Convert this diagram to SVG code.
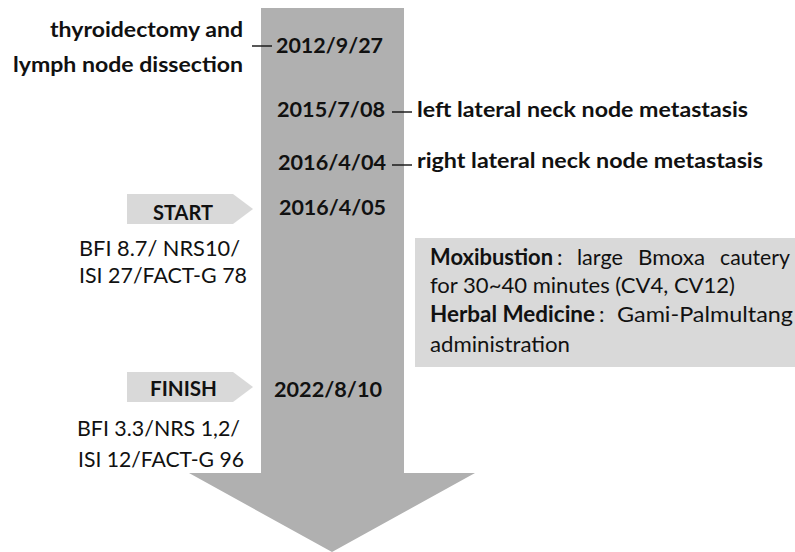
<svg xmlns="http://www.w3.org/2000/svg" width="795" height="552" viewBox="0 0 795 552">
<style>
text{font-family:Lato,"Open Sans","Liberation Sans",sans-serif;fill:#111}
.b{font-weight:bold;font-size:21px}
.r{font-size:21px}
.m{font-size:22px}
.mb{font-size:22px;font-weight:bold}
.lead{stroke:#111;stroke-width:1.4;fill:none}
.tag{fill:#d9d9d9}
</style>
<rect width="795" height="552" fill="#fff"/>
<g id="timeline-arrow">
<path d="M261,8 H404 V473 H475 L332,552 L189,473 H261 Z" fill="#b0b0b0"/>
</g>
<g id="connectors">
<line class="lead" x1="252" y1="46" x2="272" y2="46"/>
<line class="lead" x1="392" y1="112" x2="412" y2="112"/>
<line class="lead" x1="392" y1="165" x2="412" y2="165"/>
</g>
<g id="event-2012">
<text class="b" x="50" y="37" textLength="193" lengthAdjust="spacingAndGlyphs">thyroidectomy and</text>
<text class="b" x="13" y="72" textLength="230" lengthAdjust="spacingAndGlyphs">lymph node dissection</text>
<text class="b" x="276" y="53" textLength="107" lengthAdjust="spacingAndGlyphs">2012/9/27</text>
</g>
<g id="event-2015">
<text class="b" x="277" y="117" textLength="108" lengthAdjust="spacingAndGlyphs">2015/7/08</text>
<text class="b" x="417" y="117" textLength="331" lengthAdjust="spacingAndGlyphs">left lateral neck node metastasis</text>
</g>
<g id="event-2016-04">
<text class="b" x="278" y="170" textLength="108" lengthAdjust="spacingAndGlyphs">2016/4/04</text>
<text class="b" x="417" y="168" textLength="346" lengthAdjust="spacingAndGlyphs">right lateral neck node metastasis</text>
</g>
<g id="start">
<path class="tag" d="M127,194 H233 L253,209 L233,224 H127 Z"/>
<text class="b" x="153" y="220" textLength="60" lengthAdjust="spacingAndGlyphs">START</text>
<text class="b" x="279" y="215" textLength="107" lengthAdjust="spacingAndGlyphs">2016/4/05</text>
<text class="r" x="79" y="256" textLength="161" lengthAdjust="spacingAndGlyphs">BFI 8.7/ NRS10/</text>
<text class="r" x="79" y="283" textLength="168" lengthAdjust="spacingAndGlyphs">ISI 27/FACT-G 78</text>
</g>
<g id="treatment">
<rect x="415" y="238" width="380" height="129" fill="#d9d9d9"/>
<text class="mb" x="430" y="265" textLength="123" lengthAdjust="spacingAndGlyphs">Moxibustion</text>
<text class="m" x="557" y="265">:</text>
<text class="m" x="577" y="265" textLength="46" lengthAdjust="spacingAndGlyphs">large</text>
<text class="m" x="638" y="265" textLength="67" lengthAdjust="spacingAndGlyphs">Bmoxa</text>
<text class="m" x="720" y="265" textLength="70" lengthAdjust="spacingAndGlyphs">cautery</text>
<text class="m" x="430" y="293" textLength="305" lengthAdjust="spacingAndGlyphs">for 30~40 minutes (CV4, CV12)</text>
<text class="mb" x="430" y="322" textLength="165" lengthAdjust="spacingAndGlyphs">Herbal Medicine</text>
<text class="m" x="599" y="322">:</text>
<text class="m" x="617" y="322" textLength="176" lengthAdjust="spacingAndGlyphs">Gami-Palmultang</text>
<text class="m" x="430" y="352" textLength="140" lengthAdjust="spacingAndGlyphs">administration</text>
</g>
<g id="finish">
<path class="tag" d="M127,372 H233 L253,387 L233,402 H127 Z"/>
<text class="b" x="150" y="396" textLength="67" lengthAdjust="spacingAndGlyphs">FINISH</text>
<text class="b" x="274" y="397" textLength="108" lengthAdjust="spacingAndGlyphs">2022/8/10</text>
<text class="r" x="77" y="436" textLength="163" lengthAdjust="spacingAndGlyphs">BFI 3.3/NRS 1,2/</text>
<text class="r" x="78" y="467" textLength="166" lengthAdjust="spacingAndGlyphs">ISI 12/FACT-G 96</text>
</g>
</svg>
